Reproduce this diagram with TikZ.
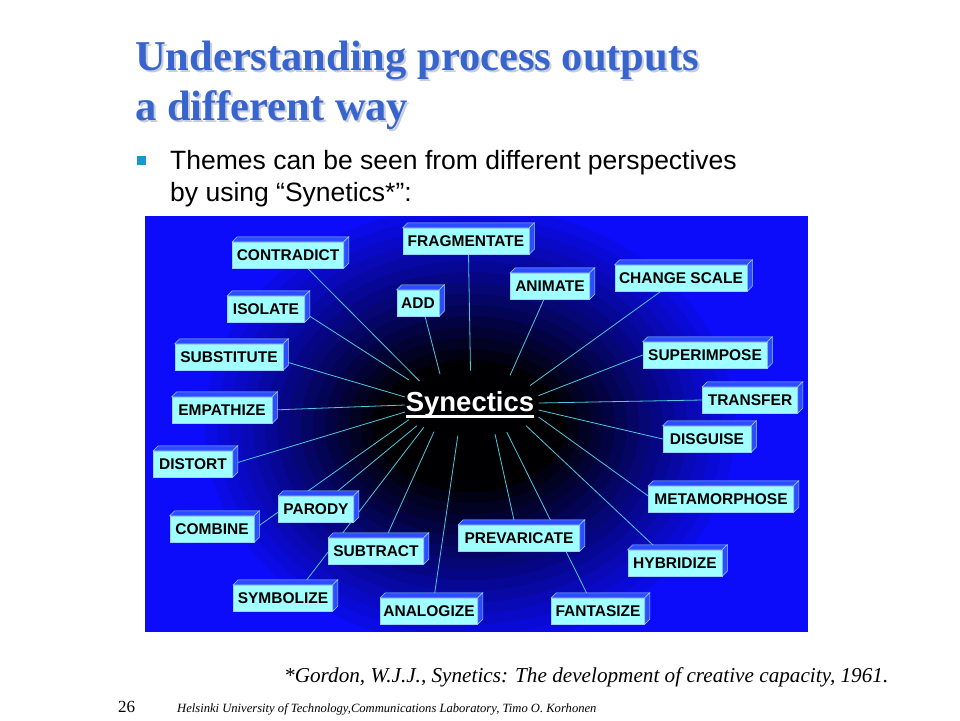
\documentclass[tikz,border=0pt]{standalone}
\usepackage{fontspec}
\setmainfont{Liberation Serif}
\setsansfont{Liberation Sans}
\definecolor{bgblue}{RGB}{12,12,250}
\definecolor{boxcyan}{RGB}{160,255,255}
\definecolor{facecol}{RGB}{45,75,255}
\definecolor{edgecol}{RGB}{150,210,255}
\definecolor{conncol}{RGB}{80,200,220}
\definecolor{titleblue}{RGB}{55,100,205}
\definecolor{shadowcol}{RGB}{200,205,220}
\definecolor{bulletcol}{RGB}{30,150,205}
\newcommand\titlefnt{\fontsize{42.5}{48}\selectfont\bfseries\rmfamily}
\pgfdeclarelayer{front}
\pgfsetlayers{main,front}
\begin{document}
\begin{tikzpicture}[x=1pt,y=-1pt,
  kbox/.style={fill=boxcyan, draw=edgecol, line width=0.5pt, minimum height=26, inner sep=0pt,
    font=\fontsize{15.5}{18}\selectfont\sffamily\bfseries, text=black},
  face/.style={fill=facecol, draw=edgecol, line width=0.5pt},
  conn/.style={draw=conncol, line width=0.8pt},
  ttl/.style={anchor=base west, inner sep=0pt, font=\titlefnt}]
\useasboundingbox (0,0) rectangle (960,720);
\fill[white] (0,0) rectangle (960,720);

% panel with banded dark centre
\fill[bgblue] (145,216) rectangle (808,632);
\begin{scope}
\clip (145,216) rectangle (808,632);
\foreach \k in {0,...,14} {
  \pgfmathsetmacro\p{92-6.5*\k}
  \pgfmathsetmacro\rx{265-12*\k}
  \pgfmathsetmacro\ry{220-11*\k}
  \fill[bgblue!\p!black] (470,426) ellipse [x radius=\rx, y radius=\ry];
}
\end{scope}
\fill[white] (140,632) rectangle (812,660);
\fill[white] (140,180) rectangle (812,216);

% title
\node[ttl, text=shadowcol] (t1s) at (137,72) {Understanding process outputs};
\node[ttl, text=titleblue] (t1) at (135,70) {Understanding process outputs};
\node[ttl, text=shadowcol] (t2s) at (137,122) {a different way};
\node[ttl, text=titleblue] (t2) at (135,120) {a different way};

% bullet
\node[fill=bulletcol, minimum size=9, inner sep=0pt] (bul) at (141.5,160) {};
\node[anchor=base west, inner sep=0pt, font=\fontsize{26.5}{32}\selectfont\sffamily] (b1) at (170,169.5)
  {Themes can be seen from different perspectives};
\node[anchor=base west, inner sep=0pt, font=\fontsize{26.5}{32}\selectfont\sffamily] (b2) at (170,201)
  {by using “Synetics*”:};

% boxes
\begin{pgfonlayer}{front}
\foreach \n/\x/\y/\w/\t in {
  contradict/288/255/111/CONTRADICT,
  fragmentate/466/241/126/FRAGMENTATE,
  add/418/303/42/ADD,
  animate/550/286/79/ANIMATE,
  changescale/681/278/132/CHANGE SCALE,
  isolate/266/309/77/ISOLATE,
  substitute/229/357/108/SUBSTITUTE,
  superimpose/705/355/124/SUPERIMPOSE,
  transfer/750/400/95/TRANSFER,
  empathize/222/410/100/EMPATHIZE,
  disguise/707/439/88/DISGUISE,
  distort/193/464/79/DISTORT,
  metamorphose/721/499/145/METAMORPHOSE,
  parody/316/509/75/PARODY,
  combine/212/529/84/COMBINE,
  prevaricate/519/538/121/PREVARICATE,
  subtract/376/551/95/SUBTRACT,
  hybridize/675/563/94/HYBRIDIZE,
  symbolize/283/598/99/SYMBOLIZE,
  analogize/429/611/97/ANALOGIZE,
  fantasize/598/611/93/FANTASIZE} {
  \node[kbox, minimum width=\w] (\n) at (\x,\y) {\t};
  \draw[face] (\n.north west) -- ++(5,-5) -- ([shift={(5,-5)}]\n.north east) -- (\n.north east) -- cycle;
  \draw[face] (\n.north east) -- ++(5,-5) -- ([shift={(5,-5)}]\n.south east) -- (\n.south east) -- cycle;
}

% centre
\node[inner sep=0pt, text=white, font=\fontsize{27.5}{32}\selectfont\sffamily\bfseries, anchor=base] (syn) at (470,411) {Synectics};
\draw[white, line width=2.3pt] ([yshift=-5.5]syn.base west) -- ([yshift=-5.5]syn.base east);
\end{pgfonlayer}

% inner ends of the connectors
\coordinate (e-contradict) at (419.5,381);
\coordinate (e-fragmentate) at (470.5,370.5);
\coordinate (e-add) at (440,374);
\coordinate (e-animate) at (510,375.5);
\coordinate (e-changescale) at (530,385.6);
\coordinate (e-isolate) at (409,380);
\coordinate (e-substitute) at (405,397);
\coordinate (e-superimpose) at (538.6,395.6);
\coordinate (e-transfer) at (538.6,403);
\coordinate (e-empathize) at (404.6,405);
\coordinate (e-disguise) at (538.6,410);
\coordinate (e-distort) at (405,412);
\coordinate (e-metamorphose) at (538.6,417);
\coordinate (e-parody) at (417,425.7);
\coordinate (e-combine) at (408.8,419.7);
\coordinate (e-prevaricate) at (495,434);
\coordinate (e-subtract) at (434,431.7);
\coordinate (e-hybridize) at (526,425.7);
\coordinate (e-symbolize) at (423.7,427.4);
\coordinate (e-analogize) at (457.8,435.7);
\coordinate (e-fantasize) at (506.7,432);

\draw[conn] ([xshift=19.5]contradict.south) -- (e-contradict);
\draw[conn] ([xshift=2.5]fragmentate.south) -- (e-fragmentate);
\draw[conn] ([xshift=7]add.south) -- (e-add);
\draw[conn] ([xshift=-6]animate.south) -- (e-animate);
\draw[conn] ([xshift=-20]changescale.south) -- (e-changescale);
\draw[conn] ([yshift=-4]isolate.east) -- (e-isolate);
\draw[conn] ([yshift=-4]substitute.east) -- (e-substitute);
\draw[conn] (superimpose.west) -- (e-superimpose);
\draw[conn] (transfer.west) -- (e-transfer);
\draw[conn] (empathize.east) -- (e-empathize);
\draw[conn] (disguise.west) -- (e-disguise);
\draw[conn] (distort.east) -- (e-distort);
\draw[conn] ([yshift=3]metamorphose.west) -- (e-metamorphose);
\draw[conn] ([xshift=16]parody.north) -- (e-parody);
\draw[conn] (combine.east) -- (e-combine);
\draw[conn] ([xshift=-4]prevaricate.north) -- (e-prevaricate);
\draw[conn] ([xshift=10]subtract.north) -- (e-subtract);
\draw[conn] ([xshift=-17]hybridize.north) -- (e-hybridize);
\draw[conn] ([xshift=20]symbolize.north) -- (e-symbolize);
\draw[conn] ([xshift=5]analogize.north) -- (e-analogize);
\draw[conn] ([xshift=-9]fantasize.north) -- (e-fantasize);

% footer
\node[anchor=base west, inner sep=0pt, font=\fontsize{21.2}{25}\selectfont\itshape] (ref) at (284,682)
  {*Gordon, W.J.J., Synetics: The development of creative capacity, 1961.};
\node[anchor=base west, inner sep=0pt, font=\fontsize{17}{20}\selectfont] (pg) at (118,712) {26};
\node[anchor=base west, inner sep=0pt, font=\fontsize{12.6}{15}\selectfont\itshape] (foot) at (177,712)
  {Helsinki University of Technology,Communications Laboratory, Timo O. Korhonen};
\end{tikzpicture}
\end{document}
